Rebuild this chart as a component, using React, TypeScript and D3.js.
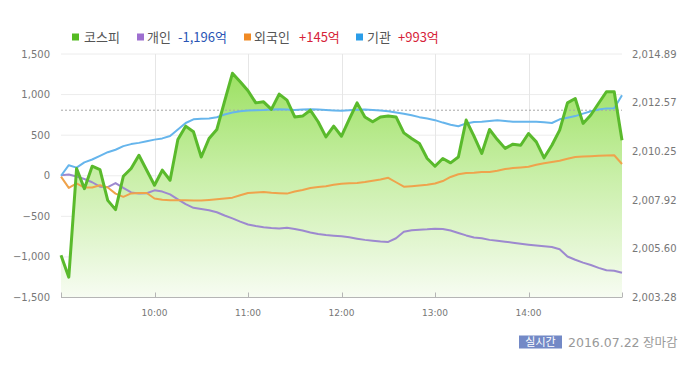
import React from 'react';
import * as d3 from 'd3';

// 5-minute samples, 09:00 - 15:00 (73 points)
const times = d3.range(73).map(i => new Date(2016, 6, 22, 9, i * 5));

// KOSPI index (right axis)
const kospi = [
  2005.29, 2004.25, 2009.43, 2008.47, 2009.54, 2009.38, 2007.91, 2007.47, 2009.06, 2009.43,
  2010.06, 2009.35, 2008.63, 2009.35, 2008.87, 2010.81, 2011.45, 2011.18, 2009.98, 2010.86,
  2011.29, 2012.64, 2013.97, 2013.57, 2013.14, 2012.56, 2012.61, 2012.25, 2012.98, 2012.69,
  2011.89, 2011.93, 2012.21, 2011.66, 2010.94, 2011.45, 2010.97, 2011.78, 2012.56, 2011.89,
  2011.66, 2011.89, 2011.93, 2011.89, 2011.13, 2010.86, 2010.62, 2009.91, 2009.54, 2009.91,
  2009.70, 2009.98, 2011.74, 2010.97, 2010.15, 2011.29, 2010.81, 2010.39, 2010.59, 2010.54,
  2011.10, 2010.70, 2009.94, 2010.54, 2011.26, 2012.56, 2012.77, 2011.58, 2011.98, 2012.54,
  2013.09, 2013.09, 2010.78,
];

// net buying, 억 (left axis)
const individual = [
  5, 15, -10, -40, -80, -135, -140, -90, -150, -205,
  -218, -215, -180, -195, -230, -290, -350, -395, -410, -425,
  -450, -490, -525, -565, -600, -620, -635, -645, -650, -640,
  -655, -675, -700, -718, -730, -738, -745, -758, -775, -790,
  -800, -810, -815, -770, -690, -672, -665, -660, -652, -656,
  -675, -705, -735, -760, -770, -790, -800, -812, -825, -838,
  -850, -860, -870, -878, -905, -995, -1035, -1070, -1100, -1135,
  -1165, -1170, -1196,
];

const foreign = [
  -10, -150, -95, -145, -145, -117, -145, -220, -260, -218,
  -212, -212, -280, -295, -302, -302, -302, -305, -305, -298,
  -290, -280, -270, -240, -212, -205, -200, -210, -215, -220,
  -195, -175, -150, -140, -128, -112, -98, -92, -88, -78,
  -62, -45, -25, -80, -135, -128, -120, -110, -96, -65,
  -15, 19, 33, 37, 45, 47, 62, 82, 95, 102,
  110, 135, 155, 170, 185, 210, 232, 238, 241, 246,
  250, 253, 145,
];

const institution = [
  0, 130, 100, 165, 200, 245, 290, 320, 365, 390,
  405, 425, 445, 460, 490, 570, 650, 695, 703, 705,
  720, 755, 780, 795, 803, 808, 810, 815, 820, 815,
  810, 815, 820, 815, 810, 805, 802, 808, 812, 815,
  810, 805, 795, 780, 765, 745, 722, 705, 685, 655,
  628, 610, 645, 662, 665, 675, 685, 675, 665, 665,
  665, 665, 660, 650, 695, 715, 735, 765, 795, 815,
  830, 832, 993,
];

const prevClose = 2012.21;
const leftTicks = [-1500, -1000, -500, 0, 500, 1000, 1500];
const rightTicks = [2003.28, 2005.6, 2007.92, 2010.25, 2012.57, 2014.89];
const hourTicks = [10, 11, 12, 13, 14];

const W = 700;
const H = 365;
const left = 61;
const right = 622;
const top = 54;
const bottom = 297.5;

const KR = "'Noto Sans CJK KR', 'Noto Sans', sans-serif";
const NUM = "'DejaVu Sans', sans-serif";

export default function App() {
  const x = d3.scaleTime()
    .domain([new Date(2016, 6, 22, 9, 0), new Date(2016, 6, 22, 15, 0)])
    .range([left, right]);
  const yL = d3.scaleLinear().domain([-1500, 1500]).range([bottom, top]);
  const yR = d3.scaleLinear().domain([2003.28, 2014.89]).range([bottom, top]);

  const flowLine = d3.line<number>()
    .x((_, i) => x(times[i]))
    .y(d => yL(d));

  const kLine = d3.line<number>()
    .x((_, i) => x(times[i]))
    .y(d => yR(d));

  const kArea = d3.area<number>()
    .x((_, i) => x(times[i]))
    .y0(bottom)
    .y1(d => yR(d));

  const fmtL = d3.format(',');
  const fmtR = d3.format(',.2f');

  return (
    <div style={{ position: 'absolute', left: 0, top: 0 }}>
      <svg width={W} height={H} style={{ display: 'block', background: '#fff' }}>
        <defs>
          <linearGradient id="kospiFill" gradientUnits="userSpaceOnUse" x1="0" y1={top} x2="0" y2={bottom}>
            <stop offset="0%" stopColor="#94de56" />
            <stop offset="50%" stopColor="#c9efa8" />
            <stop offset="100%" stopColor="#f7fcf2" />
          </linearGradient>
        </defs>

        {/* grid */}
        {leftTicks.map(t => (
          <line key={'h' + t} x1={left} x2={right} y1={yL(t)} y2={yL(t)} stroke="#ececec" strokeWidth={1} />
        ))}
        {hourTicks.map(h => {
          const px = Math.round(x(new Date(2016, 6, 22, h, 0))) + 0.5;
          return <line key={'v' + h} x1={px} x2={px} y1={top} y2={bottom} stroke="#e6e6e6" strokeWidth={1} />;
        })}

        {/* KOSPI area */}
        <path d={kArea(kospi) || ''} fill="url(#kospiFill)" />

        {/* previous close */}
        <line x1={left} x2={right} y1={yR(prevClose)} y2={yR(prevClose)} stroke="#a8a8a8" strokeWidth={1} strokeDasharray="2,2" />

        {/* flows */}
        <path d={flowLine(individual) || ''} fill="none" stroke="#9d89cf" strokeWidth={2} strokeLinejoin="round" />
        <path d={flowLine(foreign) || ''} fill="none" stroke="#efa34c" strokeWidth={2} strokeLinejoin="round" />
        <path d={flowLine(institution) || ''} fill="none" stroke="#66b5ec" strokeWidth={2} strokeLinejoin="round" />

        {/* KOSPI line */}
        <path d={kLine(kospi) || ''} fill="none" stroke="#5aba2c" strokeWidth={3} strokeLinejoin="round" />

        {/* x axis */}
        <line x1={left} x2={right} y1={bottom} y2={bottom} stroke="#b5b5b5" strokeWidth={1} />
        {[9, ...hourTicks, 15].map(h => {
          const px = Math.round(x(new Date(2016, 6, 22, h, 0))) + 0.5;
          return <line key={'t' + h} x1={px} x2={px} y1={bottom - 5} y2={bottom} stroke="#b5b5b5" strokeWidth={1} />;
        })}
        {hourTicks.map(h => (
          <text key={'xl' + h} x={x(new Date(2016, 6, 22, h, 0))} y={316} textAnchor="middle"
            fontFamily={NUM} fontSize={9} fill="#777">{`${h}:00`}</text>
        ))}

        {/* left axis labels */}
        {leftTicks.map(t => (
          <text key={'yl' + t} x={50} y={yL(t) + 3.5} textAnchor="end" fontFamily={NUM} fontSize={10} fill="#777">
            {fmtL(t)}
          </text>
        ))}

        {/* right axis labels */}
        {rightTicks.map(t => (
          <text key={'yr' + t} x={632} y={yR(t) + 3.5} textAnchor="start" fontFamily={NUM} fontSize={10} fill="#777">
            {fmtR(t)}
          </text>
        ))}

        {/* legend */}
        <g fontFamily={KR} fontSize={13}>
          <rect x={72} y={33.5} width={7} height={7} fill="#55bb22" />
          <text x={84} y={42} fill="#555">코스피</text>
          <rect x={137} y={33.5} width={7} height={7} fill="#9e6fd0" />
          <text x={147} y={42} fill="#555">개인</text>
          <text x={178} y={42} fill="#2a55b5">-1,196억</text>
          <rect x={244} y={33.5} width={7} height={7} fill="#f08a24" />
          <text x={254} y={42} fill="#555">외국인</text>
          <text x={299} y={42} fill="#d62238">+145억</text>
          <rect x={356} y={33.5} width={7} height={7} fill="#2b9de8" />
          <text x={367} y={42} fill="#555">기관</text>
          <text x={398} y={42} fill="#d62238">+993억</text>
        </g>

        {/* footer */}
        <rect x={519} y={335.5} width={43} height={13} fill="#7389c6" />
        <text x={540.5} y={346} textAnchor="middle" fontFamily={KR} fontSize={11} fill="#fff">실시간</text>
        <text x={568} y={346.5} fontFamily={NUM} fontSize={12.5} fill="#999">2016.07.22</text>
        <text x={643} y={346.5} fontFamily={KR} fontSize={12.5} fill="#999">장마감</text>
      </svg>
    </div>
  );
}
